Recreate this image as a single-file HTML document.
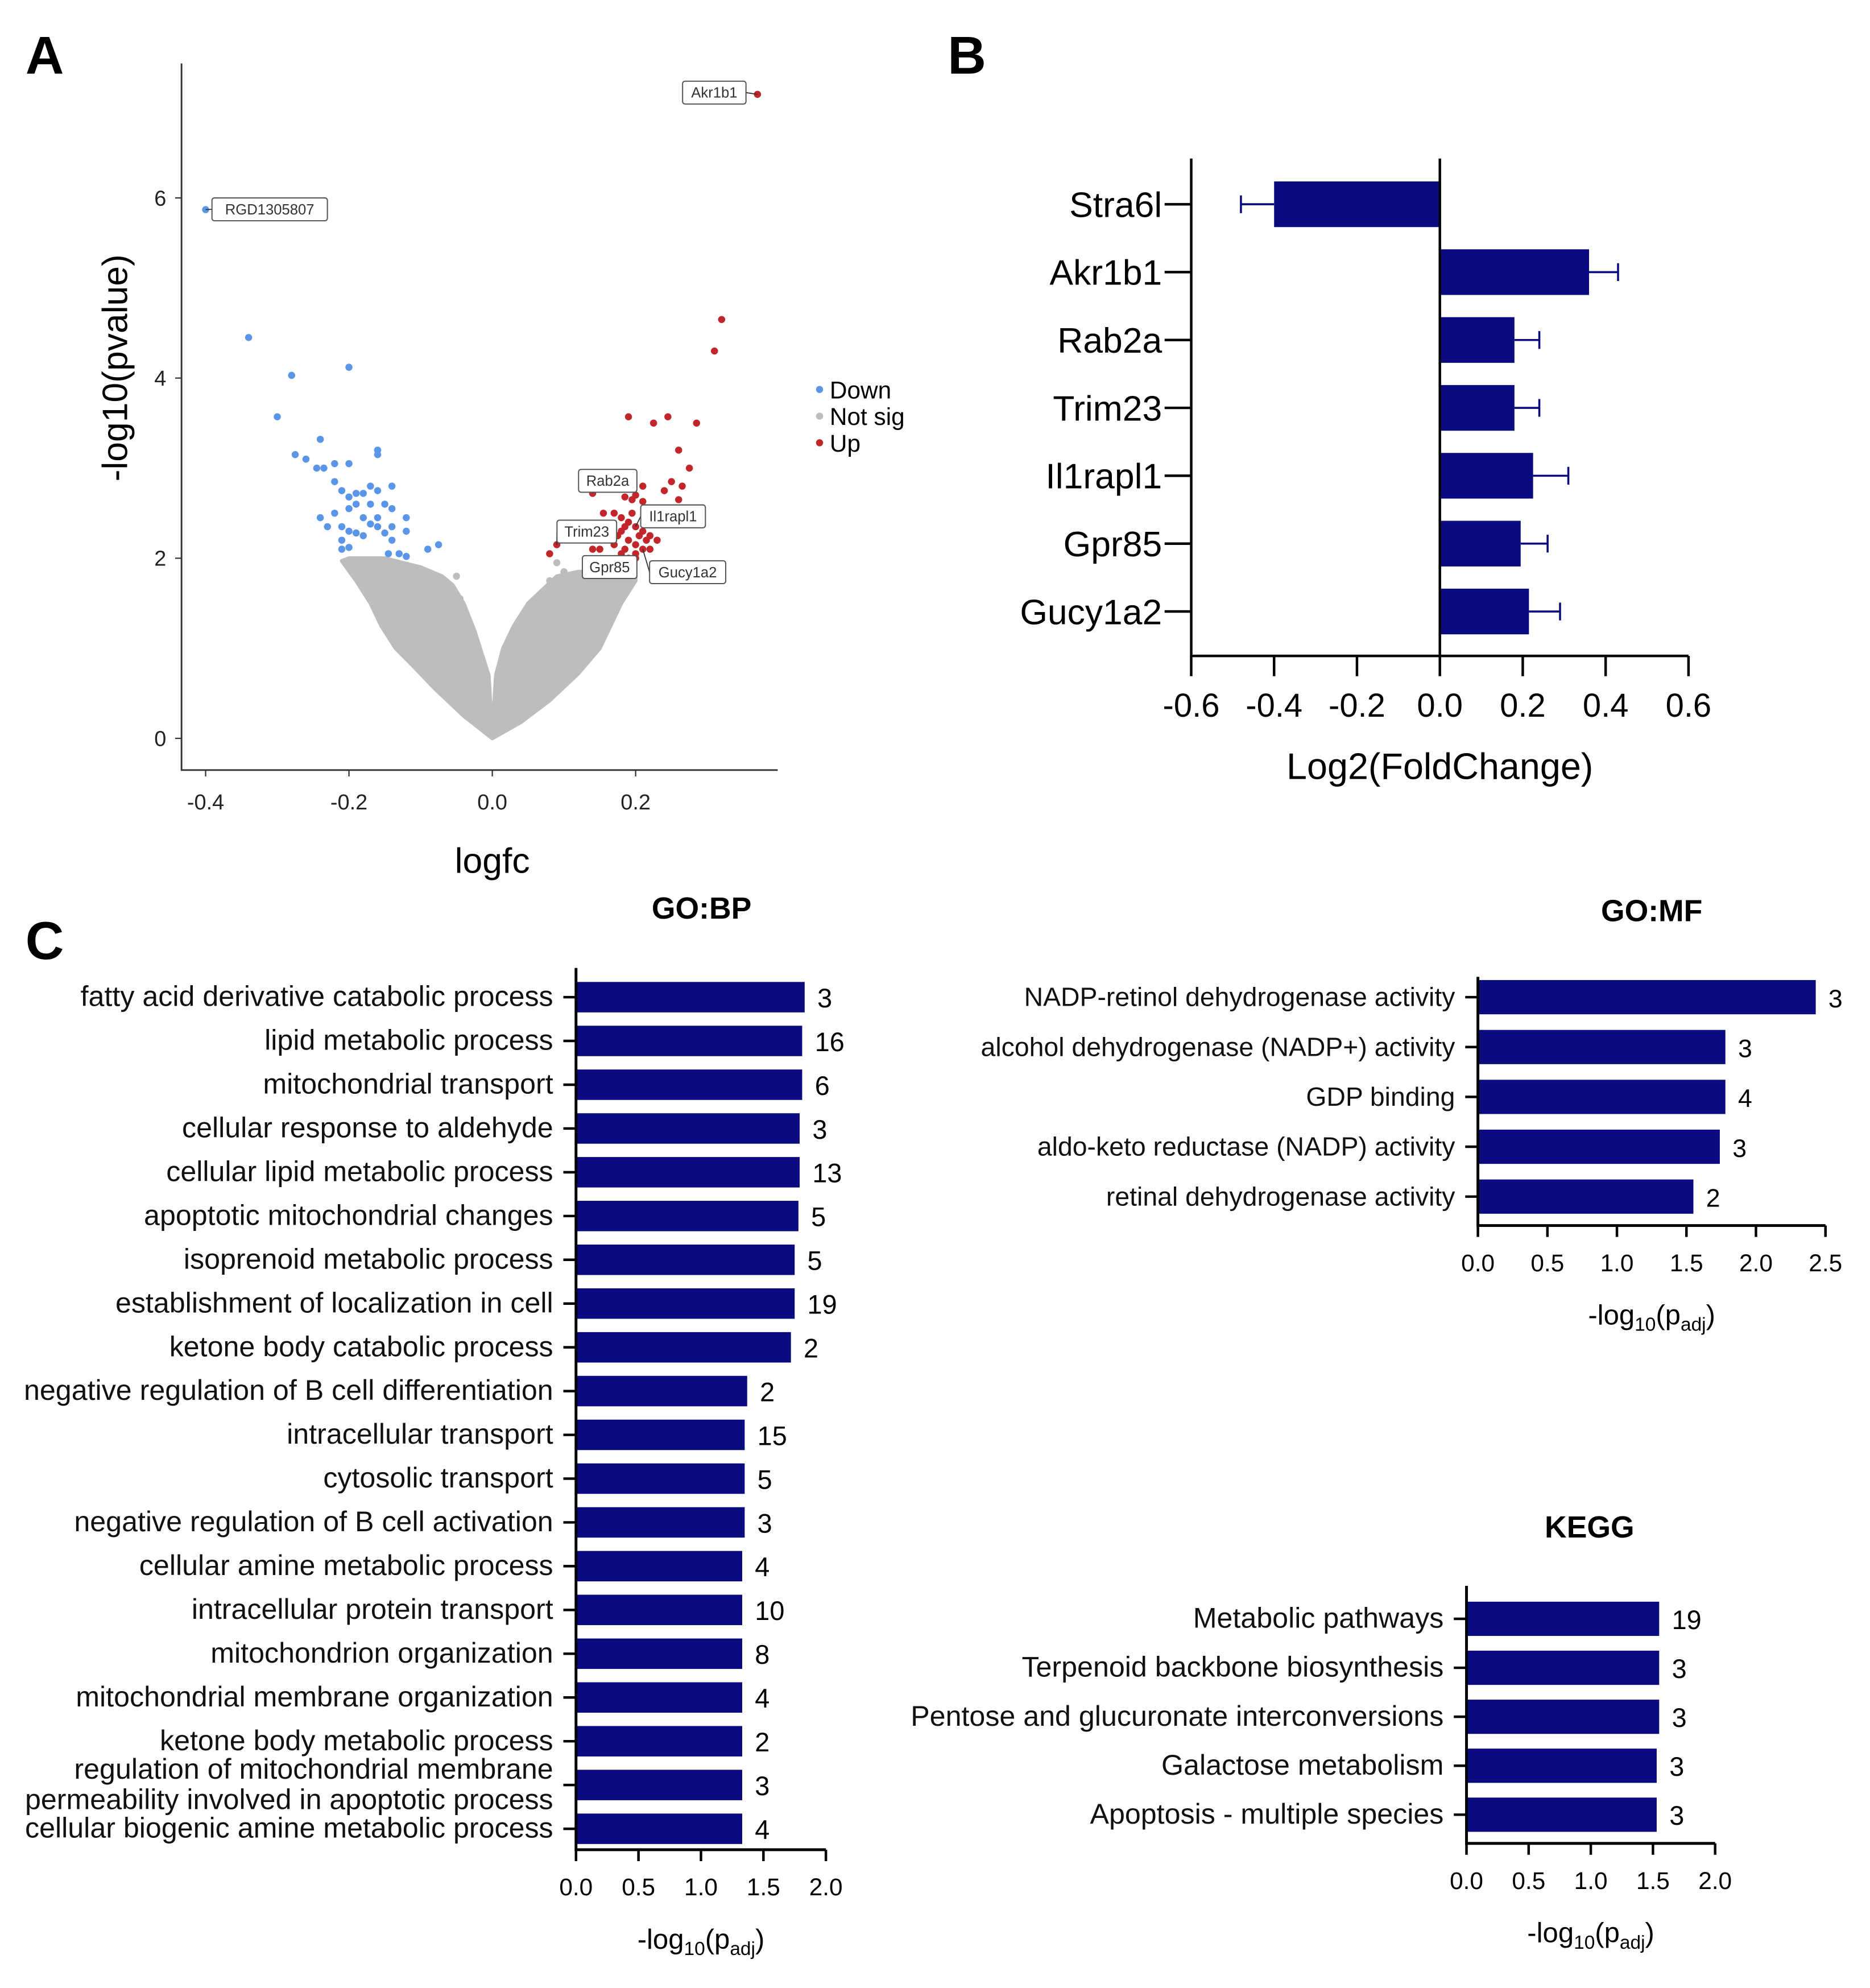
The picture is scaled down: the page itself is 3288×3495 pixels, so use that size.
<!DOCTYPE html>
<html><head><meta charset="utf-8">
<style>
html,body{margin:0;padding:0;background:#fff;}
svg{display:block;font-family:"Liberation Sans",Arial,sans-serif;}
</style></head>
<body>
<svg id="fig" xmlns="http://www.w3.org/2000/svg" width="3288" height="3495" viewBox="0 0 1474 1567">
<rect width="1474" height="1567" fill="#fff"/>
<text x="20" y="58" font-size="42" font-weight="bold">A</text>
<text x="747" y="58" font-size="42" font-weight="bold">B</text>
<text x="20" y="756" font-size="42" font-weight="bold">C</text>
<g id="volcano"></g>
<g id="barB"></g>
<g id="gobp"></g>
<g id="gomf"></g>
<g id="kegg"></g>
</svg>
<script>
// ---------- Data ----------
const downX=[-0.4,-0.34,-0.2,-0.28,-0.3,-0.24,-0.16,-0.16,-0.275,-0.26,-0.245,-0.235,-0.22,-0.2,-0.22,-0.21,-0.2,-0.19,-0.18,-0.17,-0.16,-0.14,-0.19,-0.2,-0.17,-0.15,-0.14,-0.22,-0.24,-0.18,-0.16,-0.12,-0.23,-0.21,-0.17,-0.16,-0.14,-0.12,-0.2,-0.19,-0.18,-0.15,-0.21,-0.2,-0.145,-0.13,-0.12,-0.09,-0.075,-0.21,-0.14];
const downY=[5.87,4.45,4.12,4.03,3.57,3.32,3.2,3.15,3.15,3.1,3.0,3.0,3.05,3.05,2.85,2.75,2.68,2.72,2.72,2.8,2.75,2.8,2.6,2.55,2.6,2.6,2.55,2.5,2.45,2.45,2.45,2.45,2.35,2.35,2.38,2.35,2.35,2.3,2.3,2.28,2.25,2.28,2.2,2.12,2.05,2.05,2.02,2.1,2.15,2.1,2.2];
const upX=[0.37,0.32,0.31,0.19,0.245,0.225,0.285,0.26,0.275,0.21,0.25,0.265,0.24,0.26,0.14,0.185,0.195,0.21,0.2,0.155,0.17,0.18,0.19,0.2,0.21,0.22,0.23,0.18,0.19,0.2,0.21,0.22,0.185,0.18,0.19,0.2,0.17,0.175,0.15,0.14,0.08,0.09,0.2,0.215,0.16,0.195,0.205,0.185];
const upY=[7.15,4.65,4.3,3.57,3.57,3.5,3.5,3.2,3.0,2.8,2.85,2.8,2.75,2.65,2.72,2.68,2.65,2.63,2.7,2.5,2.5,2.45,2.4,2.35,2.3,2.25,2.2,2.3,2.2,2.15,2.1,2.1,2.1,2.05,2.0,2.0,2.15,2.25,2.1,2.1,2.05,2.15,2.05,2.2,2.3,2.5,2.25,2.35];
const nsLeftX=[0,-0.04,-0.08,-0.11,-0.135,-0.155,-0.17,-0.19,-0.21,-0.2,-0.15,-0.1,-0.07,-0.055,-0.04,-0.025,-0.015,-0.005,-0.002];
const nsLeftY=[0,0.25,0.55,0.8,1.0,1.25,1.5,1.75,1.97,2.0,2.0,1.9,1.8,1.7,1.5,1.2,0.95,0.7,0.3];
const nsRightX=[0.002,0.005,0.015,0.03,0.05,0.07,0.09,0.12,0.17,0.2,0.2,0.18,0.15,0.12,0.08,0.04,0];
const nsRightY=[0.3,0.7,1.0,1.25,1.5,1.65,1.8,1.85,1.85,1.8,1.75,1.5,1.0,0.72,0.42,0.18,0];
const nsExtraX=[-0.05,-0.045,-0.06,-0.035,0.1,0.08,0.12,0.05,0.09,-0.15,-0.19];
const nsExtraY=[1.8,1.55,1.35,1.3,1.85,1.75,1.8,1.45,1.95,1.95,1.95];
const volXTicks=[-0.4,-0.2,0.0,0.2];
const volYTicks=[0,2,4,6];
const volLabels=["Akr1b1","RGD1305807","Rab2a","Il1rapl1","Trim23","Gpr85","Gucy1a2"];

const fcGenes=["Stra6l","Akr1b1","Rab2a","Trim23","Il1rapl1","Gpr85","Gucy1a2"];
const fcValues=[-0.4,0.36,0.18,0.18,0.225,0.195,0.215];
const fcErrors=[0.08,0.07,0.06,0.06,0.085,0.065,0.075];
const fcTicks=[-0.6,-0.4,-0.2,0.0,0.2,0.4,0.6];

const bpTerms=["fatty acid derivative catabolic process","lipid metabolic process","mitochondrial transport","cellular response to aldehyde","cellular lipid metabolic process","apoptotic mitochondrial changes","isoprenoid metabolic process","establishment of localization in cell","ketone body catabolic process","negative regulation of B cell differentiation","intracellular transport","cytosolic transport","negative regulation of B cell activation","cellular amine metabolic process","intracellular protein transport","mitochondrion organization","mitochondrial membrane organization","ketone body metabolic process","regulation of mitochondrial membrane|permeability involved in apoptotic process","cellular biogenic amine metabolic process"];
const bpValues=[1.83,1.81,1.81,1.79,1.79,1.78,1.75,1.75,1.72,1.37,1.35,1.35,1.35,1.33,1.33,1.33,1.33,1.33,1.33,1.33];
const bpCounts=[3,16,6,3,13,5,5,19,2,2,15,5,3,4,10,8,4,2,3,4];
const bpTicks=[0,0.5,1.0,1.5,2.0];

const mfTerms=["NADP-retinol dehydrogenase activity","alcohol dehydrogenase (NADP+) activity","GDP binding","aldo-keto reductase (NADP) activity","retinal dehydrogenase activity"];
const mfValues=[2.43,1.78,1.78,1.74,1.55];
const mfCounts=[3,3,4,3,2];
const mfTicks=[0,0.5,1.0,1.5,2.0,2.5];

const keggTerms=["Metabolic pathways","Terpenoid backbone biosynthesis","Pentose and glucuronate interconversions","Galactose metabolism","Apoptosis - multiple species"];
const keggValues=[1.55,1.55,1.55,1.53,1.53];
const keggCounts=[19,3,3,3,3];
const keggTicks=[0,0.5,1.0,1.5,2.0];

// ---------- helpers ----------
const NS="http://www.w3.org/2000/svg";
function mk(parent,tag,attrs,text){const e=document.createElementNS(NS,tag);for(const k in attrs)e.setAttribute(k,attrs[k]);if(text!==undefined)e.textContent=text;parent.appendChild(e);return e;}
const NAVY="#0b0b80";

// ---------- Volcano ----------
(function(){
const g=document.getElementById('volcano');
const sx=v=>388+v*565, sy=v=>582-v*71;
let el;
function poly(xs,ys,name){const pts=xs.map((x,i)=>sx(x)+','+sy(ys[i])).join(' ');
 el=mk(g,'polygon',{points:pts,fill:'#bdbdbd',stroke:'#bdbdbd','stroke-width':3,'stroke-linejoin':'round'});
 
 }
poly(nsLeftX,nsLeftY,'not-sig-cloud-left');
poly(nsRightX,nsRightY,'not-sig-cloud-right');
nsExtraX.forEach((x,i)=>{el=mk(g,'circle',{cx:sx(x),cy:sy(nsExtraY[i]),r:2.8,fill:'#bdbdbd'});
 
 });
downX.forEach((x,i)=>{el=mk(g,'circle',{cx:sx(x),cy:sy(downY[i]),r:2.8,fill:'#5b95e8'});
 
 });
upX.forEach((x,i)=>{el=mk(g,'circle',{cx:sx(x),cy:sy(upY[i]),r:2.8,fill:'#c0262a'});
 
 });
el=mk(g,'path',{d:'M143 50 V607 H613',fill:'none',stroke:'#333','stroke-width':1.3});


volXTicks.forEach(t=>{mk(g,'line',{x1:sx(t),x2:sx(t),y1:607,y2:612,stroke:'#333'});
 el=mk(g,'text',{x:sx(t),y:638,'font-size':17,'text-anchor':'middle',fill:'#222'},t.toFixed(1));
 
 });
volYTicks.forEach(t=>{mk(g,'line',{x1:138,x2:143,y1:sy(t),y2:sy(t),stroke:'#333'});
 el=mk(g,'text',{x:131,y:sy(t)+6,'font-size':17,'text-anchor':'end',fill:'#222'},String(t));
 
 });
el=mk(g,'text',{x:388,y:688,'font-size':28,'text-anchor':'middle'},'logfc');


el=mk(g,'text',{x:0,y:0,'font-size':28,'text-anchor':'middle',transform:'translate(100,290) rotate(-90)'},'-log10(pvalue)');


const boxes=[[538,64,50],[167,156,91],[456,370,46],[505,398,51],[439,410,47],[459,438,43],[512,442,60]];
const anchors=[[sx(upX[0]),sy(upY[0])],[sx(downX[0]),sy(downY[0])],[sx(0.14),sy(2.72)],[sx(0.2),sy(2.35)],[sx(0.09),sy(2.15)],[sx(0.19),sy(2.0)],[sx(0.21),sy(2.1)]];
volLabels.forEach((lab,i)=>{const b=boxes[i];
 const cx=b[0]+b[2]/2, cy=b[1]+9;
 mk(g,'line',{x1:anchors[i][0],y1:anchors[i][1],x2:Math.min(Math.max(anchors[i][0],b[0]),b[0]+b[2]),y2:cy,stroke:'#333','stroke-width':0.8});
 el=mk(g,'rect',{x:b[0],y:b[1],width:b[2],height:18,rx:2,fill:'#fff',stroke:'#555','stroke-width':0.9});
 
 
 el=mk(g,'text',{x:cx,y:cy+4,'font-size':11.5,'text-anchor':'middle',fill:'#333'},lab);
 
 });
const leg=[['Down','#5b95e8',313],['Not sig','#bdbdbd',334],['Up','#c0262a',355]];
leg.forEach(l=>{el=mk(g,'circle',{cx:646,cy:l[2]-6,r:2.8,fill:l[1]});
 
 
 el=mk(g,'text',{x:654,y:l[2]+1,'font-size':19},l[0]);
 
 });
})();

// ---------- Panel B ----------
(function(){
const g=document.getElementById('barB');
const sx=v=>1135+v*326.7; const rowY=i=>161+i*53.5;
let el;
fcGenes.forEach((gn,i)=>{const y=rowY(i),v=fcValues[i],e=fcErrors[i];
 el=mk(g,'rect',{x:Math.min(sx(0),sx(v)),y:y-18,width:Math.abs(sx(v)-sx(0)),height:36,fill:NAVY});
 
 
 const ee=v<0?v-e:v+e;
 el=mk(g,'path',{d:`M${sx(v)} ${y} H${sx(ee)} M${sx(ee)} ${y-7} V${y+7}`,stroke:NAVY,'stroke-width':1.6,fill:'none'});
 
 
 mk(g,'line',{x1:918,x2:939,y1:y,y2:y,stroke:'#000','stroke-width':2});
 el=mk(g,'text',{x:916,y:y+10,'font-size':28,'text-anchor':'end'},gn);
 
 });
el=mk(g,'path',{d:'M939 125 V517 H1331',stroke:'#000','stroke-width':2,fill:'none'});


mk(g,'line',{x1:1135,x2:1135,y1:125,y2:517,stroke:'#000','stroke-width':2});
fcTicks.forEach(t=>{mk(g,'line',{x1:sx(t),x2:sx(t),y1:517,y2:533,stroke:'#000','stroke-width':2});
 el=mk(g,'text',{x:sx(t),y:565,'font-size':26,'text-anchor':'middle'},t.toFixed(1));
 
 });
el=mk(g,'text',{x:1135,y:614,'font-size':29,'text-anchor':'middle'},'Log2(FoldChange)');


})();

// ---------- generic horizontal bar chart ----------
function hbar(id,terms,vals,counts,ticks,o){
 const g=document.getElementById(id);
 const sx=v=>o.x0+v*o.k; let el;
 el=mk(g,'text',{x:o.tx,y:o.ty,'font-size':24,'font-weight':'bold','text-anchor':'middle'},o.title);
 
 
 terms.forEach((t,i)=>{const y=o.r0+i*o.dr;
  el=mk(g,'rect',{x:o.x0,y:y-o.bh/2,width:sx(vals[i])-o.x0,height:o.bh,fill:NAVY});
  
  
  el=mk(g,'text',{x:sx(vals[i])+10,y:y+8,'font-size':o.cfs},String(counts[i]));
  
  
  mk(g,'line',{x1:o.x0-10,x2:o.x0,y1:y,y2:y,stroke:'#000','stroke-width':2});
  const parts=t.split('|');
  parts.forEach((p,j)=>{const yy=y+7+(j-(parts.length-1)/2)*24;
   el=mk(g,'text',{x:o.x0-18,y:yy,'font-size':o.fs,'text-anchor':'end',fill:'#111'},p);
   
   });
 });
 el=mk(g,'path',{d:`M${o.x0} ${o.ytop} V${o.yb} H${sx(ticks[ticks.length-1])}`,stroke:'#000','stroke-width':2.2,fill:'none'});
 
 
 ticks.forEach(t=>{mk(g,'line',{x1:sx(t),x2:sx(t),y1:o.yb,y2:o.yb+9,stroke:'#000','stroke-width':2});
  el=mk(g,'text',{x:sx(t),y:o.yb+36,'font-size':19,'text-anchor':'middle'},t.toFixed(1));
  
  });
 const cx=(o.x0+sx(ticks[ticks.length-1]))/2;
 el=mk(g,'text',{x:cx,y:o.yb+78,'font-size':22,'text-anchor':'middle'});
 
 
 mk(el,'tspan',{},'-log');
 mk(el,'tspan',{'font-size':15,dy:5},'10');
 mk(el,'tspan',{dy:-5},'(p');
 mk(el,'tspan',{'font-size':15,dy:5},'adj');
 mk(el,'tspan',{dy:-5},')');
}
hbar('gobp',bpTerms,bpValues,bpCounts,bpTicks,{x0:454,k:98.5,r0:786,dr:34.5,bh:24,fs:22.5,cfs:21,ytop:763,yb:1458,title:'GO:BP',tx:553,ty:724});
hbar('gomf',mfTerms,mfValues,mfCounts,mfTicks,{x0:1165,k:109.6,r0:786,dr:39.3,bh:27,fs:20.8,cfs:20,ytop:770,yb:966,title:'GO:MF',tx:1302,ty:726});
hbar('kegg',keggTerms,keggValues,keggCounts,keggTicks,{x0:1156,k:98,r0:1276,dr:38.6,bh:27,fs:22.5,cfs:21,ytop:1250,yb:1453,title:'KEGG',tx:1253,ty:1212});
</script>
</body></html>
